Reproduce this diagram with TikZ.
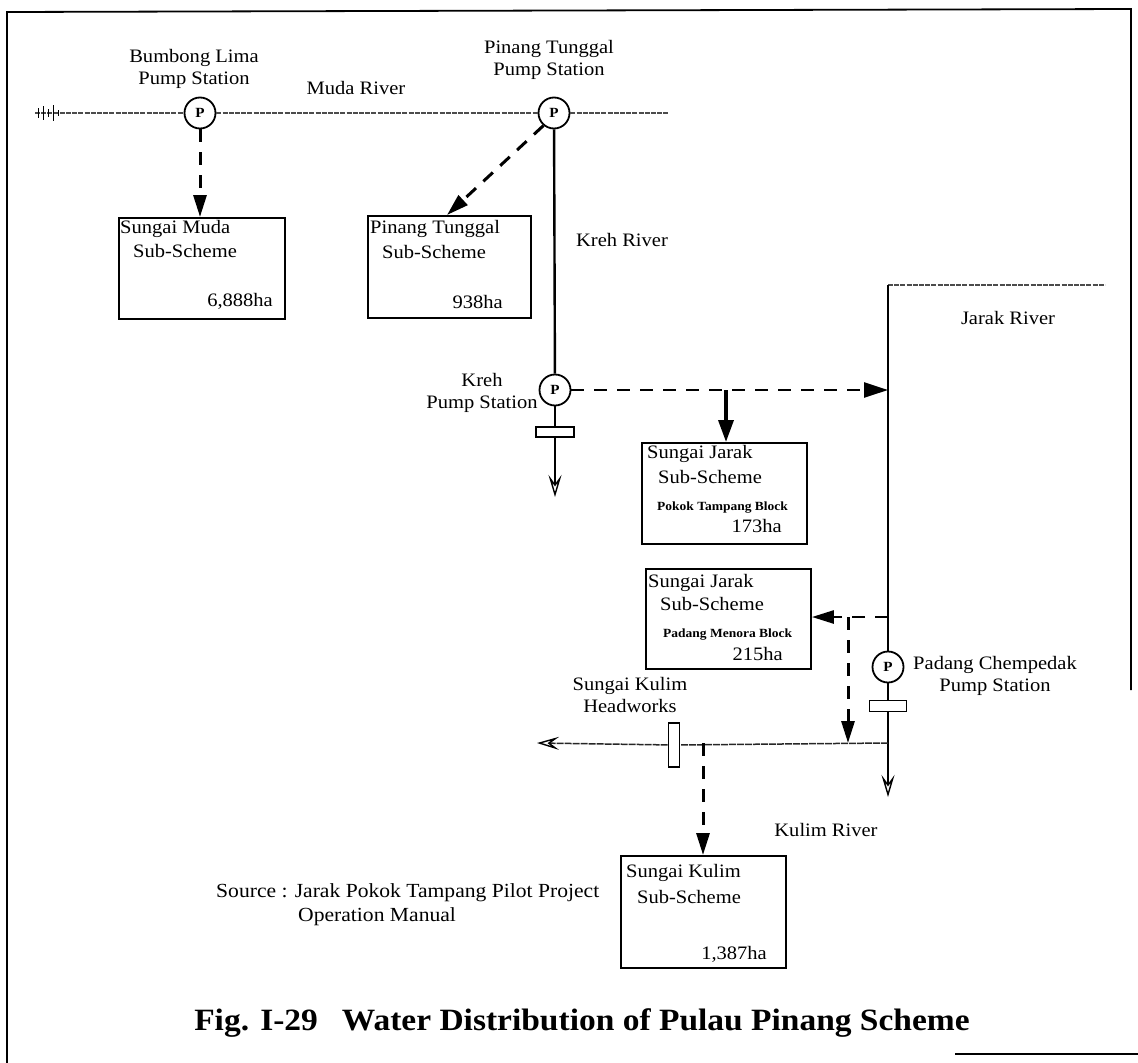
\documentclass[tikz,border=0pt]{standalone}
\usepackage{fontspec}
\setmainfont{Liberation Serif}[FakeStretch=1.08]
\usetikzlibrary{arrows.meta,calc}
\begin{document}
\begin{tikzpicture}[x=1pt,y=-1pt,
  pump/.style={draw, circle, line width=1.8pt, minimum size=31pt, inner sep=0pt, fill=white, font=\bfseries\fontsize{14}{14}\selectfont},
  scheme/.style={draw, line width=1.9pt, anchor=north west, inner sep=0pt},
  gate/.style={draw, line width=1.7pt, fill=white, inner sep=0pt},
  lbl/.style={font=\fontsize{19}{22}\selectfont, align=center, inner sep=0pt},
  btxt/.style={font=\fontsize{19}{22}\selectfont, inner sep=0pt},
  stxt/.style={font=\bfseries\fontsize{12.5}{14}\selectfont, inner sep=0pt},
  river/.style={line width=1.3pt, black!70, dash pattern=on 5pt off 1.2pt},
  lowriver/.style={line width=1.5pt, black!85, dash pattern=on 7pt off 1pt},
  mainriver/.style={line width=2.4pt},
  feed/.style={line width=3pt, dash pattern=on 13pt off 10pt, -{Triangle[length=22pt,width=13pt]}},
  flow/.style={-{Stealth[open,length=22pt,width=13pt,inset=9pt,line width=1.4pt,color=black]}},
]
\useasboundingbox (0,0) rectangle (1138,1063);
% frame
\draw[line width=1.8pt] (1131,690) -- (1131,9) -- (7,12) -- (7,1063);
\draw[line width=1.5pt] (955,1054) -- (1138,1054);

% pumps
\node[pump] (pBL) at (200,113) {P};
\node[pump] (pPT) at (554,113) {P};
\node[pump] (pKR) at (555,390) {P};
\node[pump] (pPC) at (888,667) {P};

% sub-scheme boxes
\node[scheme, minimum width=166, minimum height=101] (bMuda) at (118,217) {};
\node[scheme, minimum width=163, minimum height=102] (bPT) at (367,215) {};
\node[scheme, minimum width=165, minimum height=101] (bJ1) at (641,442) {};
\node[scheme, minimum width=165, minimum height=100] (bJ2) at (645,568) {};
\node[scheme, minimum width=165, minimum height=112] (bKul) at (620,855) {};

% gates
\node[gate, minimum width=38, minimum height=10] (gK) at (555,432) {};
\node[gate, minimum width=37, minimum height=11] (gPC) at (888,706) {};
\node[gate, minimum width=11, minimum height=44] (gHW) at (674,745) {};

% coordinates
\coordinate (mudaW) at (35,113);
\coordinate (mudaE) at (668,113);
\coordinate (kEnd) at (555,497);
\coordinate (jTop) at (888,285);
\coordinate (jTopE) at (1105,285);
\coordinate (jIn) at (888,390);
\coordinate (jJ2) at (888,617);
\coordinate (kulJ) at (888,743);
\coordinate (kulW) at (537,743);
\coordinate (jEnd) at (888,797);
\coordinate (brJ1) at (726,390);
\coordinate (brK) at (848,617);
\coordinate (hwOut) at (703,743);

% rivers
\draw[river] (mudaW) -- (pBL) -- (pPT) -- (mudaE);
\draw[line width=1pt] (38,108) -- (38,118) (43,106) -- (43,120) (48,109) -- (48,117) (53,105) -- (53,121) (58,110) -- (58,116);
\draw[mainriver] (pPT) -- (pKR);
\draw[mainriver] (pKR) -- (gK);
\draw[mainriver, flow] (gK) -- (kEnd);
\draw[river] (jTop) -- (jTopE);
\draw[mainriver] (jTop) -- (pPC);
\draw[mainriver] (pPC) -- (gPC);
\draw[mainriver, flow] (gPC) -- (jEnd);
\draw[lowriver] (kulJ) -- (gHW);
\draw[lowriver, flow] (gHW) -- (kulW);

% feeds
\draw[feed] (pBL) -- (pBL |- bMuda.north);
\draw[feed] (pPT.230) -- ($(bPT.north west)+(80,0)$);
\draw[feed, line width=2.6pt, -{Triangle[length=24pt,width=15pt]}] (pKR) -- (jIn);
\draw[line width=3.5pt, -{Triangle[length=22pt,width=15pt]}] (brJ1) -- (brJ1 |- bJ1.north);
\draw[feed, line width=2.6pt] (jJ2) -- (bJ2.east |- jJ2);
\draw[feed] (brK) -- (brK |- kulJ);
\draw[feed] (hwOut) -- (hwOut |- bKul.north);

% box texts
\node[btxt, anchor=base west] (m1) at (120,233) {Sungai Muda};
\node[btxt, anchor=base west] (m2) at (133,257) {Sub-Scheme};
\node[btxt, anchor=base east] (m3) at (273,306) {6,888ha};
\node[btxt, anchor=base west] (p1) at (370,233) {Pinang Tunggal};
\node[btxt, anchor=base west] (p2) at (382,258) {Sub-Scheme};
\node[btxt, anchor=base east] (p3) at (503,308) {938ha};
\node[btxt, anchor=base west] (j1) at (647,458) {Sungai Jarak};
\node[btxt, anchor=base west] (j2) at (658,483) {Sub-Scheme};
\node[stxt, anchor=base west] (j3) at (657,510) {Pokok Tampang Block};
\node[btxt, anchor=base east] (j4) at (782,532) {173ha};
\node[btxt, anchor=base west] (k1) at (648,587) {Sungai Jarak};
\node[btxt, anchor=base west] (k2) at (660,610) {Sub-Scheme};
\node[stxt, anchor=base west] (k3) at (663,637) {Padang Menora Block};
\node[btxt, anchor=base east] (k4) at (783,660) {215ha};
\node[btxt, anchor=base west] (u1) at (626,877) {Sungai Kulim};
\node[btxt, anchor=base west] (u2) at (637,903) {Sub-Scheme};
\node[btxt, anchor=base east] (u3) at (767,959) {1,387ha};

% labels
\node[lbl] (tBL) at (194,69) {Bumbong Lima\\Pump Station};
\node[lbl] (tMuda) at (356,88) {Muda River};
\node[lbl] (tPT) at (549,60) {Pinang Tunggal\\Pump Station};
\node[lbl] (tKreh) at (622,240) {Kreh River};
\node[lbl] (tKRp) at (482,393) {Kreh\\Pump Station};
\node[lbl] (tJarak) at (1008,318) {Jarak River};
\node[lbl] (tPC) at (995,676) {Padang Chempedak\\Pump Station};
\node[lbl] (tHW) at (630,695) {Sungai Kulim\\Headworks};
\node[lbl] (tKul) at (826,830) {Kulim River};
\node[font=\fontsize{20}{22}\selectfont, inner sep=0pt, anchor=base west] (src1) at (216,897) {Source : Jarak Pokok Tampang Pilot Project};
\node[font=\fontsize{20}{22}\selectfont, inner sep=0pt, anchor=base west] (src2) at (298,921) {Operation Manual};
\node[font=\bfseries\fontsize{31}{34}\selectfont, anchor=base, inner sep=0pt] (title) at (582,1030) {Fig. I-29\hspace{24pt}Water Distribution of Pulau Pinang Scheme};
\end{tikzpicture}
\end{document}
